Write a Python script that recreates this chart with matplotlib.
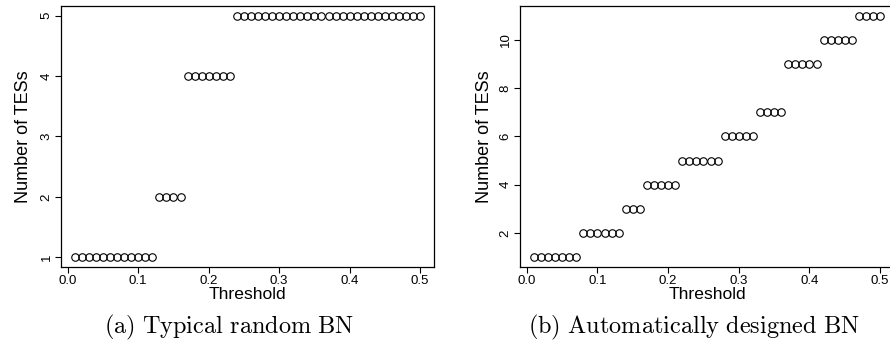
import numpy as np
import matplotlib
matplotlib.use('Agg')
import matplotlib.pyplot as plt

plt.rcParams['font.family'] = ['Liberation Sans', 'DejaVu Sans']
plt.rcParams['mathtext.fontset'] = 'cm'

threshold = [round(0.01 * i, 2) for i in range(1, 51)]

# (a) typical random BN
counts_a = [1] * 12 + [2] * 4 + [4] * 7 + [5] * 27
# (b) automatically designed BN
counts_b = ([1] * 7 + [2] * 6 + [3] * 3 + [4] * 5 + [5] * 6 +
            [6] * 5 + [7] * 4 + [9] * 5 + [10] * 5 + [11] * 4)

xticks = [0.0, 0.1, 0.2, 0.3, 0.4, 0.5]
yticks_a = [1, 2, 3, 4, 5]
yticks_b = [2, 4, 6, 8, 10]

fig = plt.figure(figsize=(8.9, 3.49), dpi=100)
ax1 = fig.add_axes([0.0685, 0.235, 0.4191, 0.748])
ax2 = fig.add_axes([0.5843, 0.235, 0.4202, 0.748])


def style(ax, counts, yticks, ylabelpad):
    ax.plot(threshold, counts, linestyle='none', marker='o', markersize=5.4,
            markerfacecolor='none', markeredgecolor='black', markeredgewidth=0.8)
    lo, hi = min(counts), max(counts)
    pad = (hi - lo) * 0.04
    ax.set_ylim(lo - pad, hi + pad)
    ax.set_xlim(0.01 - 0.0196, 0.5 + 0.0196)
    ax.set_xticks(xticks)
    ax.set_xticklabels(['0.0', '0.1', '0.2', '0.3', '0.4', '0.5'])
    ax.set_yticks(yticks)
    ax.set_yticklabels([str(t) for t in yticks], rotation=90, va='center')
    ax.tick_params(direction='out', length=4, width=0.8, labelsize=9.5, pad=2)
    for s in ax.spines.values():
        s.set_linewidth(0.9)
    ax.set_xlabel('Threshold', fontsize=12.6, labelpad=0)
    ax.set_ylabel('Number of TESs', fontsize=13, labelpad=ylabelpad)


style(ax1, counts_a, yticks_a, 6)
style(ax2, counts_b, yticks_b, 5)

fig.text(0.257, 0.063, r'$\mathrm{(a)\ Typical\ random\ BN}$', ha='center', va='center', fontsize=17.5)
fig.text(0.78, 0.063, r'$\mathrm{(b)\ Automatically\ designed\ BN}$', ha='center', va='center', fontsize=17.5)

fig.savefig('out.png', dpi=100)
